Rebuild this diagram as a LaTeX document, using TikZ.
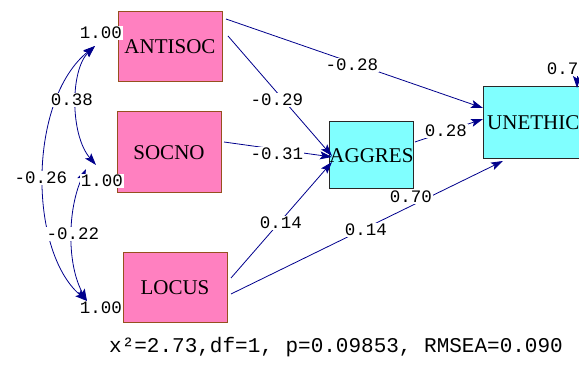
\documentclass[tikz,border=0pt]{standalone}
\usepackage{fontspec}
\setmainfont{Liberation Serif}
\newfontfamily\monof{Liberation Mono}
\usetikzlibrary{arrows.meta}
\definecolor{pinkbox}{RGB}{255,128,192}
\definecolor{pinkedge}{RGB}{150,80,30}
\definecolor{cyanbox}{RGB}{128,255,255}
\definecolor{cyanedge}{RGB}{40,40,40}
\definecolor{arrowcol}{RGB}{0,0,140}
\tikzset{
  exo/.style={draw=pinkedge, fill=pinkbox, line width=1pt, inner sep=0pt,
    font=\fontsize{21}{24}\selectfont},
  endo/.style={draw=cyanedge, fill=cyanbox, line width=1pt, inner sep=0pt,
    font=\fontsize{21}{24}\selectfont},
  pathar/.style={draw=arrowcol, line width=0.8pt, -{Stealth[length=12pt,width=8pt,inset=2.5pt]}},
  covar/.style={draw=arrowcol, line width=0.8pt, {Stealth[length=12pt,width=8pt,inset=2.5pt]}-{Stealth[length=12pt,width=8pt,inset=2.5pt]}},
  lab/.style={fill=white, inner sep=1pt, font=\monof\fontsize{17.5}{18}\selectfont},
}
\begin{document}
\begin{tikzpicture}[x=1pt,y=-1pt]
\useasboundingbox (0,0) rectangle (579,366);
% boxes
\node[exo, minimum width=104pt, minimum height=70pt] (antisoc) at (170,47) {ANTISOC};
\node[exo, minimum width=104pt, minimum height=81pt] (socno) at (169,152.5) {SOCNO};
\node[exo, minimum width=104pt, minimum height=70pt] (locus) at (175,288) {LOCUS};
\node[endo, minimum width=81pt, minimum height=67pt] (aggres) at (371.5,155.5) {AGGRES};
\node[endo, minimum width=137pt, minimum height=72pt] (unethic) at (551.5,123) {};
\node[anchor=west, inner sep=0pt, font=\fontsize{21}{24}\selectfont] (unethictxt) at (487,123) {UNETHIC};
% connector end points
\coordinate (a1) at (226,19);
\coordinate (a2) at (228,36);
\coordinate (s1) at (224,142);
\coordinate (l1) at (231,278);
\coordinate (l2) at (231,294);
\coordinate (g1) at (415,142);
\coordinate (tA) at (332,156);
\coordinate (tS) at (332,157);
\coordinate (tL) at (332,162);
\coordinate (u1) at (483,108);
\coordinate (u2) at (483,119);
\coordinate (u3) at (503,161);
\coordinate (e0) at (577,76);
\coordinate (e1) at (577,88);
\coordinate (ca) at (95,46);
\coordinate (cs1) at (96,165);
\coordinate (cs2) at (86,169);
\coordinate (cl) at (87,301);
% paths
\draw[pathar] (a1) -- (u1);
\draw[pathar] (a2) -- (tA);
\draw[pathar] (s1) -- (tS);
\draw[pathar] (l1) -- (tL);
\draw[pathar] (l2) -- (u3);
\draw[pathar] (g1) -- (u2);
\draw[pathar] (e0) -- (e1);
% covariances
\draw[covar] (ca) .. controls (70,70) and (70,135) .. (cs1);
\draw[covar] (ca) .. controls (28,100) and (28,250) .. (cl);
\draw[covar] (cs2) .. controls (67,210) and (67,265) .. (cl);
% labels
\node[lab] (l28) at (352,65) {-0.28};
\node[lab] (l29) at (277,100) {-0.29};
\node[lab] (l31) at (277,154) {-0.31};
\node[lab] (l14a) at (281,223) {0.14};
\node[lab] (l14b) at (366,230) {0.14};
\node[lab] (l70) at (411,197) {0.70};
\node[lab] (l28b) at (446,131) {0.28};
\node[lab] (l38) at (72,100) {0.38};
\node[lab] (l26) at (41,178) {-0.26};
\node[lab] (l22) at (73,234) {-0.22};
\node[lab] (v1) at (101,33) {1.00};
\node[lab] (v2) at (102,181) {1.00};
\node[lab] (v3) at (101,308) {1.00};
\node[lab, inner sep=0pt, fill=none, anchor=east] (v4) at (578.5,69) {0.7};
% fit statistics
\node[inner sep=0pt, font=\monof\fontsize{21}{24}\selectfont] (fit) at (336,347) {x²=2.73,df=1, p=0.09853, RMSEA=0.090};
\end{tikzpicture}
\end{document}
